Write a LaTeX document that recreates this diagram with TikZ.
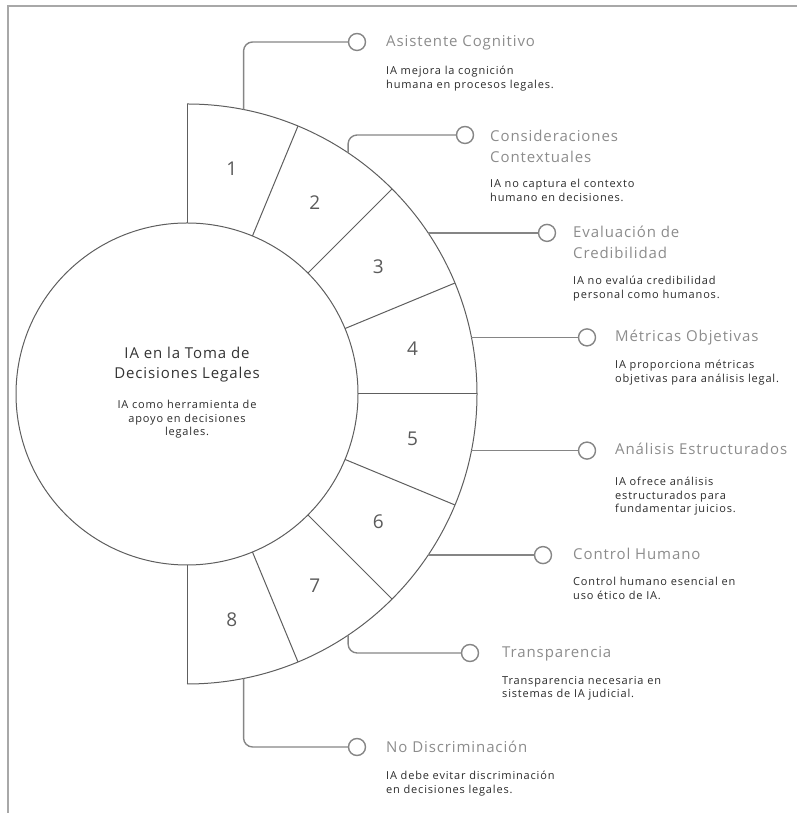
\documentclass[tikz,border=0pt]{standalone}
\usepackage{fontspec}
\setmainfont{Open Sans}
\newfontfamily\ttlfont{Open Sans}[LetterSpace=6]
\newfontfamily\dscfont{Open Sans}[LetterSpace=7.5]
\usetikzlibrary{calc}
\definecolor{ringc}{HTML}{5E5E5E}
\definecolor{connc}{HTML}{858585}
\definecolor{framec}{HTML}{A8A8A8}
\definecolor{titlec}{HTML}{8C8C8C}
\definecolor{descc}{HTML}{2A2A2A}
\definecolor{numc}{HTML}{5A5A5A}
\definecolor{centc}{HTML}{333333}
\begin{document}
\begin{tikzpicture}[x=1pt,y=1pt,
  ring/.style={draw=ringc, line width=1pt},
  conn/.style={draw=connc, line width=1.4pt, rounded corners=9pt},
  frameline/.style={draw=framec, line width=1.4pt},
  dot/.style={circle, draw=connc, line width=1.4pt, fill=white, minimum size=17pt, inner sep=0pt},
  ttl/.style={font=\ttlfont\fontsize{15}{21}\selectfont, text=titlec, align=left, inner sep=0pt, anchor=north west},
  dsc/.style={font=\dscfont\fontsize{11}{13.5}\selectfont, text=descc, align=left, inner sep=0pt, anchor=north west},
  num/.style={font=\fontsize{19}{19}\selectfont, text=numc}]
\useasboundingbox (0,0) rectangle (797,813);
\draw[frameline] (8,0) -- (8,807) -- (797,807);
\coordinate (C) at (187,419);
\node[circle, draw=ringc, line width=1pt, minimum size=342pt, inner sep=0pt] (hub) at (C) {};
\draw[ring] ($(C)+(90:290)$) arc[start angle=90, end angle=-90, radius=290];
\foreach \a in {90,67.5,...,-90} \draw[ring] ($(C)+(\a:171)$) -- ($(C)+(\a:290)$);
\foreach \i in {1,...,8} {
  \node[num] (n\i) at ($(C)+({101.25-22.5*\i}:230)$) {\i};
  \coordinate (p\i) at ($(C)+({101.25-22.5*\i}:290)$);
}
% dots
\node[dot] (d1) at (357,771) {};
\node[dot] (d2) at (465,678) {};
\node[dot] (d3) at (547,580.1) {};
\node[dot] (d4) at (587,475.6) {};
\node[dot] (d5) at (587,362.4) {};
\node[dot] (d6) at (543,257.9) {};
\node[dot] (d7) at (470,160) {};
\node[dot] (d8) at (357,66) {};
% connectors
\draw[conn] (p1) |- (d1.west);
\draw[conn] (p2) |- (d2.west);
\draw[conn] (p3) -- (p3 -| d3.west);
\draw[conn] (p4) -- (p4 -| d4.west);
\draw[conn] (p5) -- (p5 -| d5.west);
\draw[conn] (p6) -- (p6 -| d6.west);
\draw[conn] (p7) |- (d7.west);
\draw[conn] (p8) |- (d8.west);
% titles and descriptions
\node[ttl] (t1) at (386,778) {Asistente Cognitivo};
\node[dsc] (e1) at (386,747) {IA mejora la cognición\\humana en procesos legales.};
\node[ttl] (t2) at (490,683) {Consideraciones\\Contextuales};
\node[dsc] (e2) at (490,634) {IA no captura el contexto\\humano en decisiones.};
\node[ttl] (t3) at (573,587) {Evaluación de\\Credibilidad};
\node[dsc] (e3) at (573,537) {IA no evalúa credibilidad\\personal como humanos.};
\node[ttl] (t4) at (615,483) {Métricas Objetivas};
\node[dsc] (e4) at (615,453) {IA proporciona métricas\\objetivas para análisis legal.};
\node[ttl] (t5) at (615,370) {Análisis Estructurados};
\node[dsc] (e5) at (615,336) {IA ofrece análisis\\estructurados para\\fundamentar juicios.};
\node[ttl] (t6) at (573,265) {Control Humano};
\node[dsc] (e6) at (573,236) {Control humano esencial en\\uso ético de IA.};
\node[ttl] (t7) at (502,167) {Transparencia};
\node[dsc] (e7) at (502,137) {Transparencia necesaria en\\sistemas de IA judicial.};
\node[ttl] (t8) at (386,72) {No Discriminación};
\node[dsc] (e8) at (386,42) {IA debe evitar discriminación\\en decisiones legales.};
% center
\node[font=\ttlfont\fontsize{15}{20}\selectfont, text=centc, align=center, inner sep=0pt, anchor=north] (ct) at (187,466) {IA en la Toma de\\Decisiones Legales};
\node[dsc, align=center, anchor=north] (cd) at (187,413) {IA como herramienta de\\apoyo en decisiones\\legales.};
\end{tikzpicture}
\end{document}
